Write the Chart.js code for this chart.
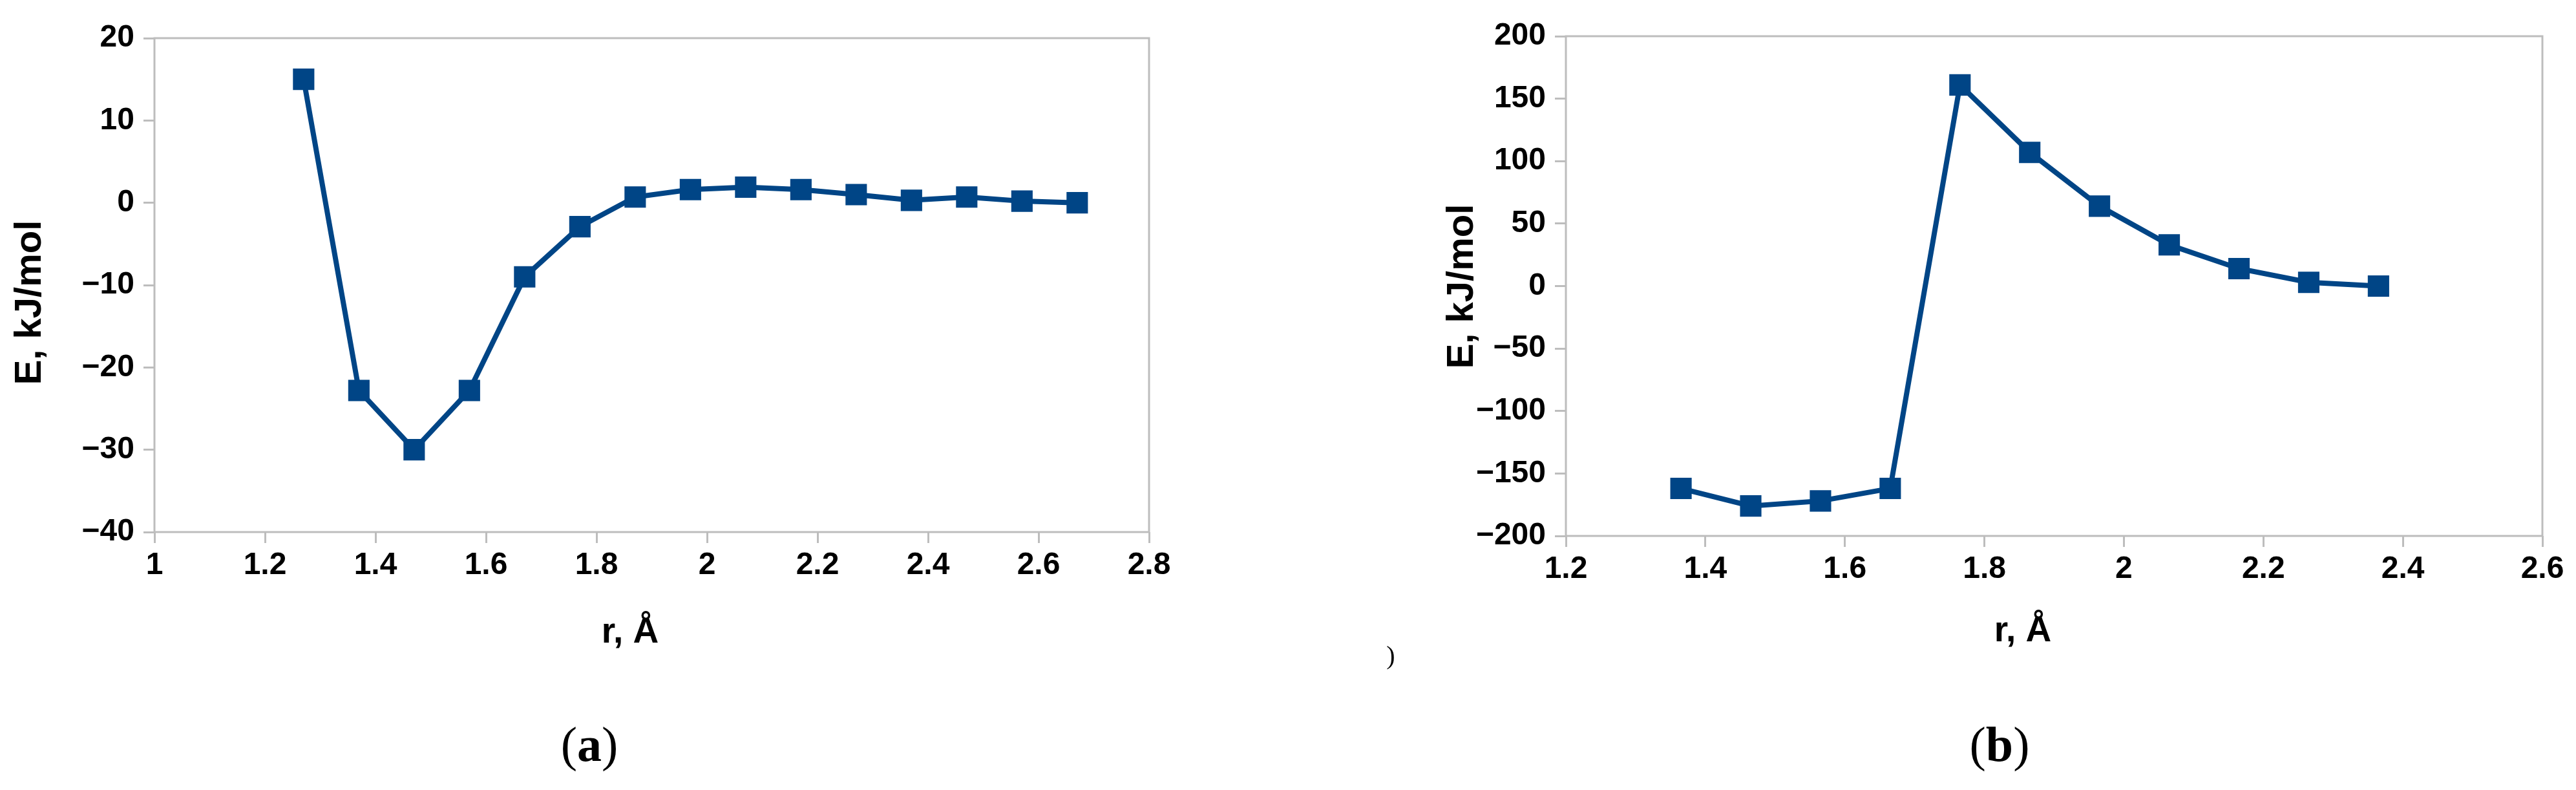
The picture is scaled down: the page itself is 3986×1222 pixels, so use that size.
<!DOCTYPE html>
<html>
<head>
<meta charset="utf-8">
<title>E vs r</title>
<script src="https://cdn.jsdelivr.net/npm/chart.js@4.4.1/dist/chart.umd.min.js"></script>
<style>
    body { margin: 0; background: #fff; width: 3986px; height: 1222px; position: relative; overflow: hidden; }
    canvas { position: absolute; top: 0; }
    #chartA { left: 0; }
    #chartB { left: 1993px; }
    .cap { position: absolute; font-family: "Liberation Serif", "Times New Roman", serif; color: #000;
           transform: translate(-50%, -50%); white-space: nowrap; line-height: 1; }
</style>
</head>
<body>
<canvas id="chartA" width="1993" height="1222"></canvas>
<canvas id="chartB" width="1993" height="1222"></canvas>
<div class="cap" style="left:912px; top:1151px; font-size:76px;">(<b>a</b>)</div>
<div class="cap" style="left:3094px; top:1151px; font-size:76px;">(<b>b</b>)</div>
<div class="cap" style="left:2152px; top:1014px; font-size:40px;">)</div>
<script>
// Panel (a)
const rA = [1.27, 1.37, 1.47, 1.57, 1.67, 1.77, 1.87, 1.97, 2.07, 2.17, 2.27, 2.37, 2.47, 2.57, 2.67];
const eA = [15, -22.8, -30, -22.8, -9, -2.9, 0.7, 1.6, 1.9, 1.6, 1.0, 0.3, 0.7, 0.2, 0];
const xTicksA = [1, 1.2, 1.4, 1.6, 1.8, 2, 2.2, 2.4, 2.6, 2.8];
const yTicksA = [-40, -30, -20, -10, 0, 10, 20];

// Panel (b)
const rB = [1.365, 1.465, 1.565, 1.665, 1.765, 1.865, 1.965, 2.065, 2.165, 2.265, 2.365];
const eB = [-162, -176, -172, -162, 161, 107, 64, 33, 14, 3, 0];
const xTicksB = [1.2, 1.4, 1.6, 1.8, 2, 2.2, 2.4, 2.6];
const yTicksB = [-200, -150, -100, -50, 0, 50, 100, 150, 200];

const xTitle = 'r, Å';
const yTitle = 'E, kJ/mol';

const BLUE = '#004586';
const FRAME = '#bdbdbd';
const SANS = '"Liberation Sans", Arial, sans-serif';

// light grey box round the plot area
const plotFrame = {
    id: 'plotFrame',
    beforeDatasetsDraw(chart) {
        const a = chart.chartArea;
        const ctx = chart.ctx;
        ctx.save();
        ctx.strokeStyle = FRAME;
        ctx.lineWidth = 3;
        ctx.strokeRect(a.left, a.top, a.right - a.left, a.bottom - a.top);
        ctx.restore();
    }
};

// axis titles placed by hand (left one sits a bit low in the original)
function axisTitles(pos) {
    return {
        id: 'axisTitles',
        afterDraw(chart) {
            const ctx = chart.ctx;
            ctx.save();
            ctx.fillStyle = '#000';
            ctx.textAlign = 'center';
            ctx.textBaseline = 'middle';
            ctx.font = 'bold 55px ' + SANS;
            ctx.fillText(xTitle, pos.x[0], pos.x[1]);
            ctx.translate(pos.y[0], pos.y[1]);
            ctx.rotate(-Math.PI / 2);
            ctx.font = 'bold 58px ' + SANS;
            ctx.fillText(yTitle, 0, 0);
            ctx.restore();
        }
    };
}

function fmt(v) {
    return String(v).replace('-', '\u2212');
}

function makeChart(id, xs, ys, xTicks, yTicks, box, titlePos) {
    const points = xs.map(function(x, i) { return { x: x, y: ys[i] }; });
    const grid = { display: true, drawOnChartArea: false, drawTicks: true, tickLength: 17, color: FRAME, lineWidth: 3 };
    const font = { family: SANS, size: 48, weight: 'bold' };

    return new Chart(document.getElementById(id), {
        type: 'line',
        data: {
            datasets: [{
                data: points,
                borderColor: BLUE,
                backgroundColor: BLUE,
                borderWidth: 8,
                pointStyle: 'rect',
                pointRadius: 22,
                pointBorderWidth: 2,
                pointBorderColor: BLUE,
                pointBackgroundColor: BLUE,
                tension: 0
            }]
        },
        options: {
            responsive: false,
            animation: false,
            layout: { padding: { left: 0, top: box.top, right: box.right, bottom: box.bottom } },
            plugins: { legend: { display: false }, tooltip: { enabled: false } },
            scales: {
                x: {
                    type: 'linear',
                    min: xTicks[0],
                    max: xTicks[xTicks.length - 1],
                    afterBuildTicks: function(s) { s.ticks = xTicks.map(function(v) { return { value: v }; }); },
                    afterFit: function(s) { s.height = 100; },
                    grid: grid,
                    border: { display: false },
                    ticks: { font: font, color: '#000', padding: 6, maxRotation: 0, autoSkip: false, callback: fmt }
                },
                y: {
                    type: 'linear',
                    min: yTicks[0],
                    max: yTicks[yTicks.length - 1],
                    afterBuildTicks: function(s) { s.ticks = yTicks.map(function(v) { return { value: v }; }); },
                    afterFit: function(s) { s.width = box.left; },
                    grid: grid,
                    border: { display: false },
                    ticks: { font: font, color: '#000', padding: 14, autoSkip: false, callback: fmt }
                }
            }
        },
        plugins: [plotFrame, axisTitles(titlePos)]
    });
}

makeChart('chartA', rA, eA, xTicksA, yTicksA,
    { left: 239, top: 59, right: 215, bottom: 299 },
    { x: [975, 979], y: [47, 468] });

makeChart('chartB', rB, eB, xTicksB, yTicksB,
    { left: 430, top: 56, right: 52, bottom: 293 },
    { x: [1137, 977], y: [270, 443] });
</script>
</body>
</html>
